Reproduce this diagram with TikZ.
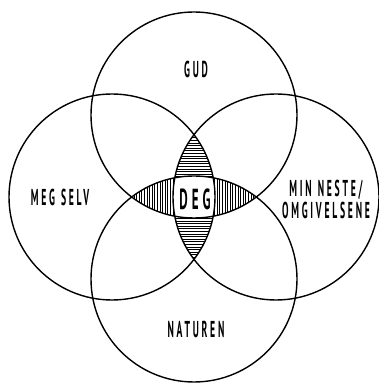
\documentclass[tikz,border=0pt]{standalone}
\usepackage{fontspec}
\newfontfamily\handfont[FakeStretch=0.42, LetterSpace=12]{PT Sans}
\newfontfamily\degfont[FakeStretch=0.45, LetterSpace=14]{PT Sans}
\usetikzlibrary{positioning}
\newcommand{\gap}{\hspace{6pt}}

\begin{document}
\begin{tikzpicture}[x=1pt, y=1pt,
  ring/.style={draw=black, line width=1.4pt},
  hatch/.style={black, line width=0.5pt},
  lbl/.style={font=\handfont\bfseries\fontsize{23}{22}\selectfont, align=center, inner sep=0pt},
  mid/.style={font=\degfont\bfseries\fontsize{29}{29}\selectfont, inner sep=0pt}
]
  \useasboundingbox (0,0) rectangle (379,383);
  \def\rr{103}
  \coordinate (cgud) at (194,268);
  \coordinate (cnat) at (194,104);
  \coordinate (cmeg) at (112,186);
  \coordinate (cmin) at (276,186);

  % vertical lens, horizontal strokes
  \begin{scope}
    \clip (cmeg) circle (\rr);
    \clip (cmin) circle (\rr);
    \foreach \y in {118,120.6,...,254} \draw[hatch] (150,\y) -- (240,\y);
  \end{scope}
  % horizontal lens, vertical strokes
  \begin{scope}
    \clip (cgud) circle (\rr);
    \clip (cnat) circle (\rr);
    \foreach \x in {126,128.6,...,264} \draw[hatch] (\x,150) -- (\x,222);
  \end{scope}
  % the middle stays blank
  \begin{scope}
    \clip (cgud) circle (\rr);
    \clip (cnat) circle (\rr);
    \clip (cmeg) circle (\rr);
    \clip (cmin) circle (\rr);
    \fill[white] (150,150) rectangle (240,222);
  \end{scope}

  \draw[ring] (cgud) circle (\rr);
  \draw[ring] (cnat) circle (\rr);
  \draw[ring] (cmeg) circle (\rr);
  \draw[ring] (cmin) circle (\rr);

  \node[lbl] (gud) at (196,314) {GUD};
  \node[lbl] (meg) at (60,186) {MEG\gap SELV};
  \node[lbl] (min) at (326,184) {MIN\gap NESTE/\\OMGIVELSENE};
  \node[lbl] (nat) at (196,54) {NATUREN};
  \node[mid] (deg) at (195,184) {DEG};

\end{tikzpicture}
\end{document}
